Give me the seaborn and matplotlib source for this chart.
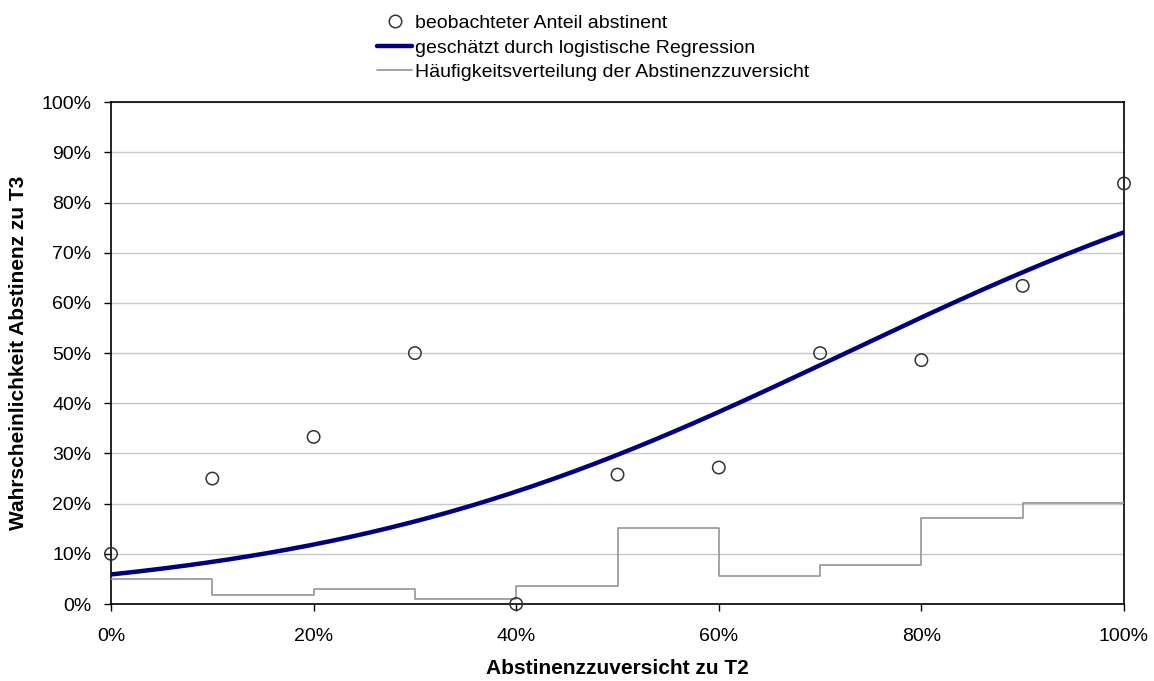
import numpy as np
import pandas as pd
import matplotlib
matplotlib.use("Agg")
import matplotlib.pyplot as plt
from matplotlib.ticker import PercentFormatter, MultipleLocator
from matplotlib.lines import Line2D
import seaborn as sns

# Abstinence confidence at T2 (0 % ... 100 % in steps of 10 %)
confidence = [0.0, 0.1, 0.2, 0.3, 0.4, 0.5, 0.6, 0.7, 0.8, 0.9, 1.0]
# Observed share abstinent at T3 for each confidence level
observed_share = [0.100, 0.250, 0.333, 0.500, 0.000, 0.258, 0.272, 0.500, 0.486, 0.634, 0.838]
# Frequency distribution of the confidence ratings
frequency = [0.049, 0.019, 0.029, 0.010, 0.035, 0.152, 0.055, 0.078, 0.171, 0.201, 0.201]
# Fitted logistic regression coefficients (logit scale, x as proportion)
intercept = -2.77
slope = 3.82

sns.set_theme(style="white")
plt.rcParams["font.family"] = ["Liberation Sans", "DejaVu Sans"]
plt.rcParams["text.color"] = "black"
plt.rcParams["axes.labelcolor"] = "black"

fig = plt.figure(figsize=(11.54, 6.81), dpi=100)
ax = fig.add_axes([0.0962, 0.113, 0.8778, 0.737])

obs_df = pd.DataFrame({"x": confidence, "y": observed_share})
freq_df = pd.DataFrame({"x": confidence, "y": frequency})
x_fit = np.linspace(0, 1, 201)
fit_df = pd.DataFrame({"x": x_fit, "y": 1.0 / (1.0 + np.exp(-(intercept + slope * x_fit)))})

grey = "#959595"
navy = "#000080"

sns.lineplot(data=freq_df, x="x", y="y", ax=ax, color=grey, linewidth=1.2,
             drawstyle="steps-post", zorder=3)
sns.lineplot(data=fit_df, x="x", y="y", ax=ax, color=navy, linewidth=3.2, zorder=4)
sns.scatterplot(data=obs_df, x="x", y="y", ax=ax, marker="o", s=80,
                facecolor="none", edgecolor="#333333", linewidth=1.1,
                zorder=5, clip_on=False)

ax.set_xlim(0, 1)
ax.set_ylim(0, 1)
ax.xaxis.set_major_locator(MultipleLocator(0.2))
ax.yaxis.set_major_locator(MultipleLocator(0.1))
ax.xaxis.set_major_formatter(PercentFormatter(1.0, decimals=0))
ax.yaxis.set_major_formatter(PercentFormatter(1.0, decimals=0))

ax.grid(axis="y", color="#c8c8c8", linewidth=1.0)
ax.grid(axis="x", visible=False)
ax.set_axisbelow(True)
for side in ["left", "right", "top", "bottom"]:
    ax.spines[side].set_visible(True)
    ax.spines[side].set_color("black")
    ax.spines[side].set_linewidth(1.2)

ax.tick_params(axis="both", which="major", direction="out", length=5, width=1,
               color="black", labelsize=14, labelcolor="black",
               left=True, bottom=True)
ax.tick_params(axis="y", pad=9)
ax.tick_params(axis="x", pad=12)

ax.set_xlabel("Abstinenzzuversicht zu T2", fontsize=15, fontweight="bold", labelpad=10)
ax.set_ylabel("Wahrscheinlichkeit Abstinenz zu T3", fontsize=15, fontweight="bold", labelpad=10)

handles = [
    Line2D([], [], linestyle="none", marker="o", markersize=9, markerfacecolor="none",
           markeredgecolor="#333333", markeredgewidth=1.1),
    Line2D([], [], color=navy, linewidth=3.2),
    Line2D([], [], color=grey, linewidth=1.2),
]
labels = [
    "beobachteter Anteil abstinent",
    "geschätzt durch logistische Regression",
    "Häufigkeitsverteilung der Abstinenzzuversicht",
]
fig.legend(handles, labels, loc="upper left", bbox_to_anchor=(0.3166, 0.996),
           frameon=False, fontsize=14, handlelength=1.8, handletextpad=0.15,
           labelspacing=0.36, borderaxespad=0.2)

fig.savefig("out.png", dpi=100)
